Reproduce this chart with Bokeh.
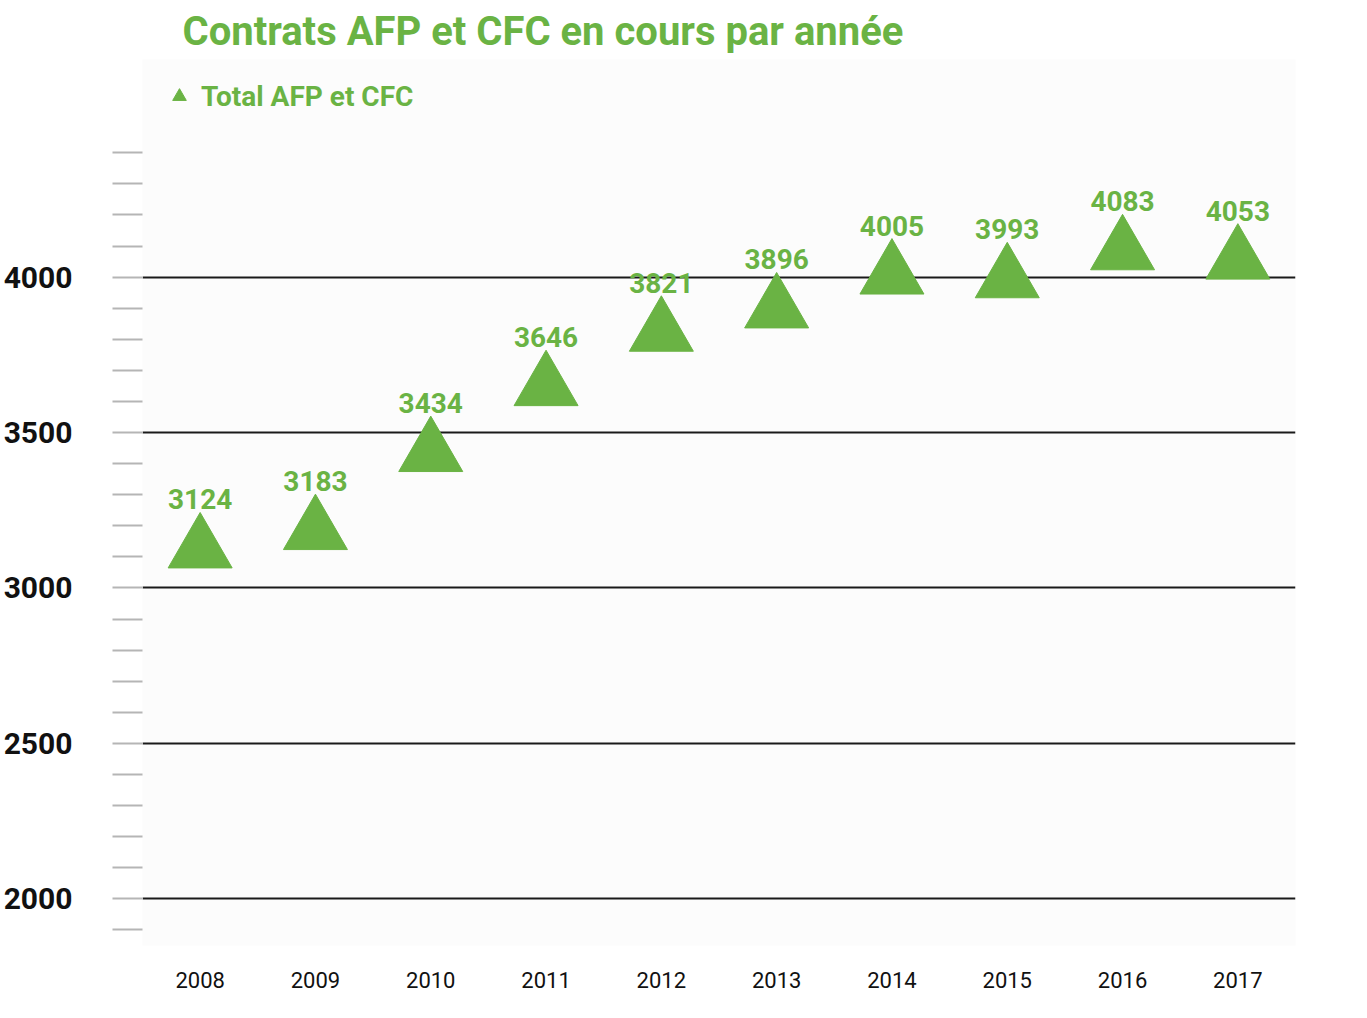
from bokeh.plotting import figure
from bokeh.models import ColumnDataSource, FixedTicker, Title, Legend, LegendItem
from bokeh.core.properties import value
from bokeh.embed import file_html
from bokeh.resources import INLINE

years = ["2008", "2009", "2010", "2011", "2012", "2013", "2014", "2015", "2016", "2017"]
totals = [3124, 3183, 3434, 3646, 3821, 3896, 4005, 3993, 4083, 4053]
y_ticks = [2000, 2500, 3000, 3500, 4000]
title_text = "Contrats AFP et CFC en cours par année"
series_name = "Total AFP et CFC"

GREEN = "#6ab344"
FONT = "Roboto"

src = ColumnDataSource(dict(year=years, total=totals, label=[str(v) for v in totals]))

p = figure(width=1345, height=995, x_range=years, y_range=(1850, 4700),
           output_backend="svg", toolbar_location=None,
           background_fill_color="#fcfcfc", border_fill_color="white",
           min_border_left=110, min_border_right=50, min_border_top=30, min_border_bottom=50)
p.outline_line_color = None

t = Title(text=title_text, text_color=GREEN, text_font=FONT, text_font_size="40px",
          text_font_style="bold", offset=40)
p.add_layout(t, "above")

r = p.scatter("year", "total", source=src, marker="triangle", size=64,
              fill_color=GREEN, line_color=GREEN)
p.text("year", "total", text="label", source=src, text_color=GREEN, text_font=value(FONT),
       text_font_size="28px", text_font_style="bold", text_align="center",
       text_baseline="bottom", y_offset=-40)

legend = Legend(items=[LegendItem(label=series_name, renderers=[r])], location="top_left",
                label_text_color=GREEN, label_text_font=FONT, label_text_font_size="28px",
                label_text_font_style="bold", background_fill_alpha=0, border_line_color=None,
                glyph_width=34, glyph_height=34, margin=20)
p.add_layout(legend)

p.yaxis.ticker = FixedTicker(ticks=y_ticks, minor_ticks=list(range(1900, 4401, 100)))
p.ygrid.ticker = FixedTicker(ticks=y_ticks)
p.ygrid.grid_line_color = "#1a1a1a"
p.ygrid.grid_line_width = 2
p.xgrid.grid_line_color = None

p.yaxis.axis_line_color = None
p.yaxis.major_tick_line_color = None
p.yaxis.minor_tick_line_color = "#b5b5b5"
p.yaxis.minor_tick_line_width = 2
p.yaxis.minor_tick_in = 0
p.yaxis.minor_tick_out = 30
p.yaxis.major_label_text_font = FONT
p.yaxis.major_label_text_font_size = "30px"
p.yaxis.major_label_text_font_style = "bold"
p.yaxis.major_label_text_color = "#111111"
p.yaxis.major_label_standoff = 40

p.xaxis.axis_line_color = None
p.xaxis.major_tick_line_color = None
p.xaxis.minor_tick_line_color = None
p.xaxis.major_label_text_font = FONT
p.xaxis.major_label_text_font_size = "22px"
p.xaxis.major_label_text_color = "#111111"
p.xaxis.major_label_standoff = 20

open("out.html", "w").write(file_html(p, INLINE))
